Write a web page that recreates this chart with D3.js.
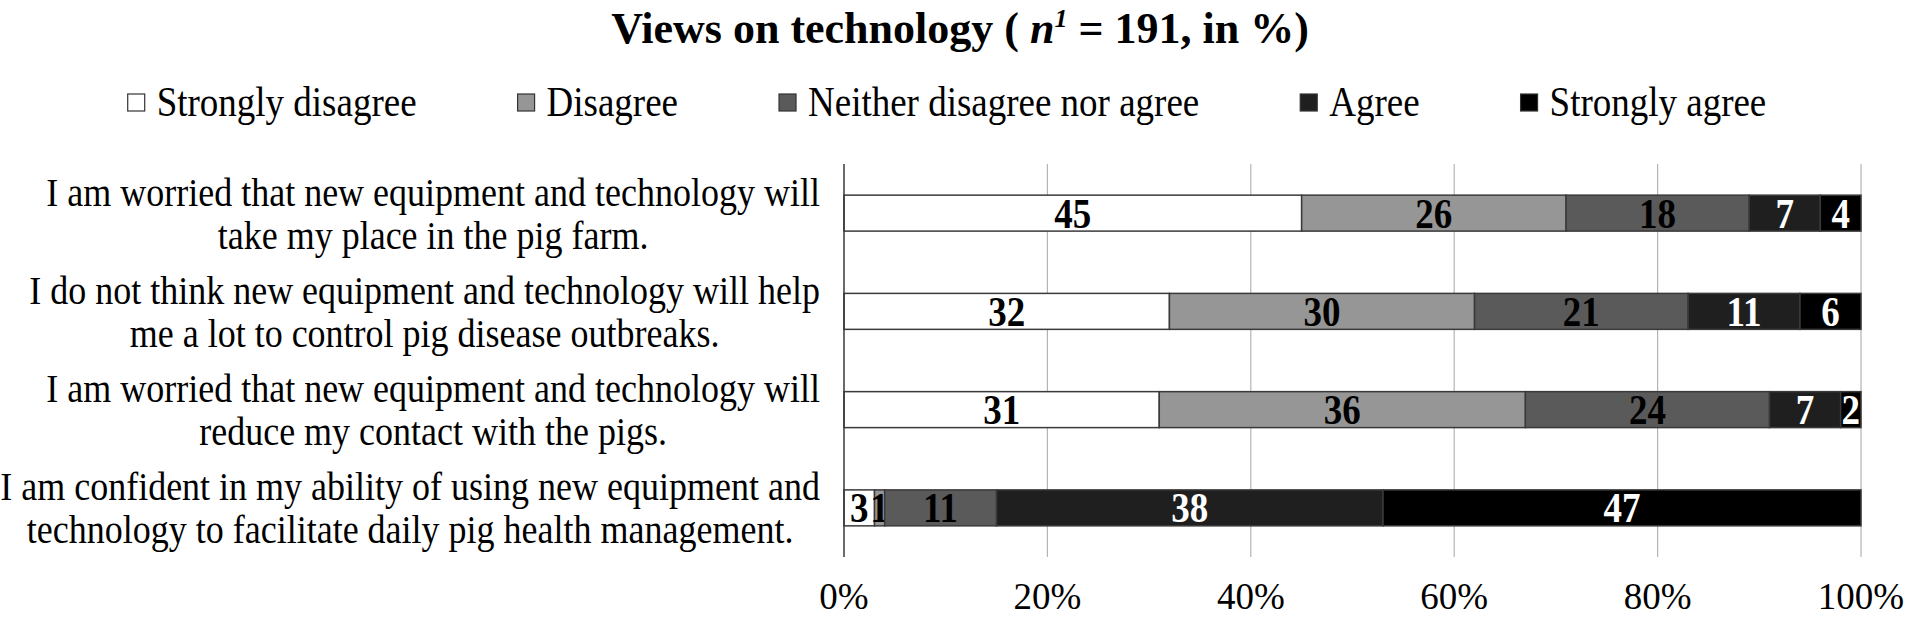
<!DOCTYPE html>
<html>
<head>
<meta charset="utf-8">
<script src="https://cdn.jsdelivr.net/npm/d3@7"></script>
<style>
  body { margin: 0; background: #fff; }
  svg { display: block; font-family: "Liberation Serif", "Times New Roman", serif; }
</style>
</head>
<body>
<svg id="chart"></svg>
<script>
// chart values
const questions = [
    ["I am worried that new equipment and technology will", "take my place in the pig farm."],
    ["I do not think new equipment and technology will help", "me a lot to control pig disease outbreaks."],
    ["I am worried that new equipment and technology will", "reduce my contact with the pigs."],
    ["I am confident in my ability of using new equipment and", "technology to facilitate daily pig health management."]
]
const responses = ["Strongly disagree", "Disagree", "Neither disagree nor agree", "Agree", "Strongly agree"]
const stronglyDisagree = [45, 32, 31, 3]
const disagree = [26, 30, 36, 1]
const neither = [18, 21, 24, 11]
const agree = [7, 11, 7, 38]
const stronglyAgree = [4, 6, 2, 47]
const xTicks = [0, 20, 40, 60, 80, 100]

const fills = ["#ffffff", "#969696", "#5a5a5a", "#1f1f1f", "#000000"]
const labelColors = ["#000", "#000", "#000", "#fff", "#fff"]

const width = 1905,
    height = 618,
    margin = {top: 164, right: 44, bottom: 61, left: 844}

// the original text is a little taller than wide, stretch it vertically
const k = 1.12
const stretch = cy => `matrix(1,0,0,${k},0,${cy * (1 - k)})`

const svg = d3.select("#chart")
    .attr("width", width)
    .attr("height", height)

const rows = questions.map((q, i) => {
    const row = {id: i, lines: q}
    row[responses[0]] = stronglyDisagree[i]
    row[responses[1]] = disagree[i]
    row[responses[2]] = neither[i]
    row[responses[3]] = agree[i]
    row[responses[4]] = stronglyAgree[i]
    return row
})

const series = d3.stack().keys(responses)(rows)

const x = d3.scaleLinear()
    .domain([0, 100])
    .range([margin.left, width - margin.right])

const y = d3.scaleBand()
    .domain(rows.map(d => d.id))
    .range([margin.top, height - margin.bottom])
    .paddingInner(0.634)
    .paddingOuter(0.317)

// title
const title = svg.append("text")
    .attr("x", 960)
    .attr("y", 43)
    .attr("text-anchor", "middle")
    .style("font-size", "44px")
    .style("font-weight", "bold")
title.append("tspan").text("Views on technology ( ")
title.append("tspan").style("font-style", "italic").text("n")
title.append("tspan").style("font-style", "italic").style("font-size", "26px").attr("dy", -16).text("1")
title.append("tspan").attr("dy", 16).text(" = 191, in %)")

// legend
const legend = svg.append("g")
const legendItems = legend.selectAll("g")
    .data(responses)
    .join("g")
legendItems.append("rect")
    .attr("y", 94)
    .attr("width", 17)
    .attr("height", 17)
    .attr("fill", (d, i) => fills[i])
    .attr("stroke", "#333")
    .attr("stroke-width", 1.2)
legendItems.append("text")
    .attr("x", 29)
    .attr("y", 102)
    .attr("dy", "0.35em")
    .attr("transform", stretch(102))
    .style("font-size", "37px")
    .text(d => d)
let lx = 0
legendItems.each(function () {
    const w = this.querySelector("text").getComputedTextLength()
    d3.select(this).attr("transform", `translate(${lx},0)`)
    lx += 29 + w + 101
})
const legendWidth = lx - 101
legend.attr("transform", `translate(${947 - legendWidth / 2},0)`)

// gridlines
svg.append("g")
    .selectAll("line")
    .data(xTicks.slice(1))
    .join("line")
    .attr("x1", d => x(d))
    .attr("x2", d => x(d))
    .attr("y1", margin.top)
    .attr("y2", height - margin.bottom)
    .attr("stroke", "#b4b4b4")
    .attr("stroke-width", 1.2)

// bars
const layer = svg.append("g")
    .selectAll("g")
    .data(series)
    .join("g")
    .attr("fill", (d, i) => fills[i])

layer.selectAll("rect")
    .data(d => d)
    .join("rect")
    .attr("x", d => x(d[0]))
    .attr("y", d => y(d.data.id))
    .attr("width", d => x(d[1]) - x(d[0]))
    .attr("height", y.bandwidth())
    .attr("stroke", "#3a3a3a")
    .attr("stroke-width", 1.5)

// value labels
layer.each(function (s, i) {
    d3.select(this).selectAll("text")
        .data(s)
        .join("text")
        .attr("x", d => (x(d[0]) + x(d[1])) / 2)
        .attr("y", d => y(d.data.id) + y.bandwidth() / 2)
        .attr("dy", "0.35em")
        .attr("transform", d => stretch(y(d.data.id) + y.bandwidth() / 2))
        .attr("text-anchor", "middle")
        .attr("fill", labelColors[i])
        .style("font-size", "37px")
        .style("font-weight", "bold")
        .text(d => d[1] - d[0])
})

// category axis line
svg.append("line")
    .attr("x1", x(0))
    .attr("x2", x(0))
    .attr("y1", margin.top)
    .attr("y2", height - margin.bottom)
    .attr("stroke", "#3a3a3a")
    .attr("stroke-width", 1.5)

// category labels, lines centred on each other, block right aligned
const catLabels = svg.append("g")
    .selectAll("text")
    .data(rows)
    .join("text")
    .style("font-size", "36px")
    .attr("text-anchor", "middle")
catLabels.each(function (d) {
    const t = d3.select(this)
    const cy = y(d.id) + y.bandwidth() / 2
    t.attr("transform", stretch(cy))
    d.lines.forEach((line, j) => {
        t.append("tspan")
            .attr("y", cy + (j - 0.5) * 43 / k)
            .attr("dy", "0.35em")
            .text(line)
    })
    const spans = this.querySelectorAll("tspan")
    const maxW = d3.max(Array.from(spans), s => s.getComputedTextLength())
    t.selectAll("tspan").attr("x", 820 - maxW / 2)
})

// x axis tick labels
svg.append("g")
    .selectAll("text")
    .data(xTicks)
    .join("text")
    .attr("x", d => x(d))
    .attr("y", 609)
    .attr("text-anchor", "middle")
    .style("font-size", "37px")
    .text(d => d + "%")
</script>
</body>
</html>
